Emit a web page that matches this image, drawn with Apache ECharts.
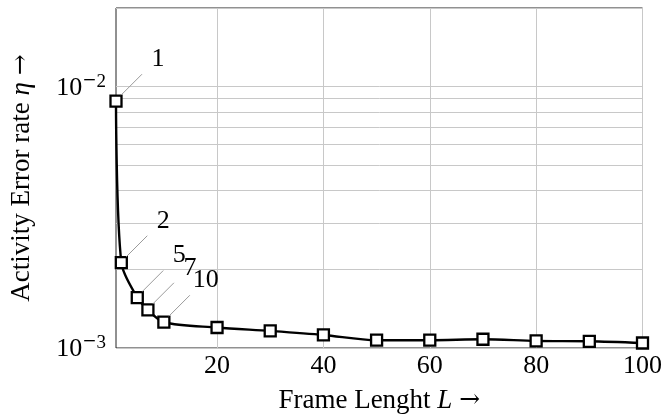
<!DOCTYPE html>
<html>
<head>
<meta charset="utf-8">
<script src="https://cdn.jsdelivr.net/npm/echarts@6/dist/echarts.min.js"></script>
<style>
  html, body { margin: 0; padding: 0; background: #fff; }
  #chart { width: 665px; height: 420px; }
</style>
</head>
<body>
<div id="chart"></div>
<script>
// frame length L and activity error rate
var frameLen = [1, 2, 5, 7, 10, 20, 30, 40, 50, 60, 70, 80, 90, 100];
var errRate = [8.8e-3, 2.12e-3, 1.56e-3, 1.40e-3, 1.255e-3, 1.198e-3, 1.162e-3, 1.122e-3,
               1.071e-3, 1.071e-3, 1.080e-3, 1.064e-3, 1.061e-3, 1.045e-3];
var pinned = [1, 2, 5, 7, 10];   // points with a label pin
var xTicks = [20, 40, 60, 80, 100];
var yLabels = [0.001, 0.01];
var yGrid = [0.001, 0.002, 0.003, 0.004, 0.005, 0.006, 0.007, 0.008, 0.009, 0.01, 0.02];

var FONT = '"Liberation Serif", "DejaVu Serif", serif';
var MATH = '"DejaVu Serif", serif';

var chart = echarts.init(document.getElementById('chart'));

var points = frameLen.map(function (x, i) {
    return [x, errRate[i]];
});
var pinPoints = [];
frameLen.forEach(function (x, i) {
    if (pinned.indexOf(x) >= 0) pinPoints.push([x, errRate[i]]);
});

// pin: short grey diagonal line and the label above right of the point
function renderPin(params, api) {
    var pt = api.coord([api.value(0), api.value(1)]);
    return {
        type: 'group',
        children: [{
            type: 'line',
            shape: { x1: pt[0] + 5, y1: pt[1] - 6, x2: pt[0] + 26, y2: pt[1] - 27 },
            style: { stroke: '#9a9a9a', lineWidth: 1 }
        }, {
            type: 'text',
            x: pt[0] + 42, y: pt[1] - 42,
            style: {
                text: String(api.value(0)),
                fontFamily: FONT, fontSize: 26, fill: '#000',
                align: 'center', verticalAlign: 'middle'
            }
        }]
    };
}

var nameRich = {
    t: { fontFamily: FONT, fontSize: 27, color: '#000' },
    i: { fontFamily: FONT, fontSize: 27, fontStyle: 'italic', color: '#000' },
    a: { fontFamily: MATH, fontSize: 25, color: '#000' }
};

var option = {
    animation: false,
    grid: {
        left: 116, right: 18, top: 8, bottom: 72,
        show: true, borderColor: '#222', borderWidth: 1
    },
    xAxis: {
        type: 'value',
        min: 1, max: 100,
        name: '{t|Frame Lenght }{i|L\u00a0}{a|→}',
        nameLocation: 'middle',
        nameGap: 39,
        nameTextStyle: { rich: nameRich },
        axisLine: { show: false },
        axisTick: { show: false, customValues: xTicks },
        axisLabel: { customValues: xTicks, fontFamily: FONT, fontSize: 26, color: '#000', margin: 5 },
        splitLine: { show: true, lineStyle: { color: '#c8c8c8', width: 1 } }
    },
    yAxis: {
        type: 'log',
        logBase: 10,
        min: 0.001, max: 0.02,
        name: '{t|Activity Error rate }{i|η\u00a0}{a|→}',
        nameLocation: 'middle',
        nameGap: 81,
        nameTextStyle: { rich: nameRich },
        axisLine: { show: false },
        axisTick: { show: false, customValues: yGrid },
        axisLabel: {
            customValues: yLabels,
            margin: 10,
            formatter: function (v) {
                var e = Math.round(Math.log10(v));
                return '{b|10}{m|−}{s|' + (-e) + '}';
            },
            rich: {
                b: { fontFamily: FONT, fontSize: 26, color: '#000', verticalAlign: 'bottom' },
                m: { fontFamily: MATH, fontSize: 17, color: '#000', verticalAlign: 'top', padding: [0, 0, 12, 0] },
                s: { fontFamily: FONT, fontSize: 19, color: '#000', verticalAlign: 'top', padding: [0, 0, 10, 0] }
            }
        },
        splitLine: { show: true, lineStyle: { color: '#c8c8c8', width: 1 } }
    },
    series: [{
        type: 'line',
        data: points,
        smooth: 0.3,
        symbol: 'rect',
        symbolSize: 11,
        lineStyle: { color: '#000', width: 2.4 },
        itemStyle: { color: '#fff', borderColor: '#000', borderWidth: 2.3 },
        z: 5
    }, {
        type: 'custom',
        data: pinPoints,
        renderItem: renderPin,
        silent: true,
        z: 6
    }]
};

chart.setOption(option);
</script>
</body>
</html>
